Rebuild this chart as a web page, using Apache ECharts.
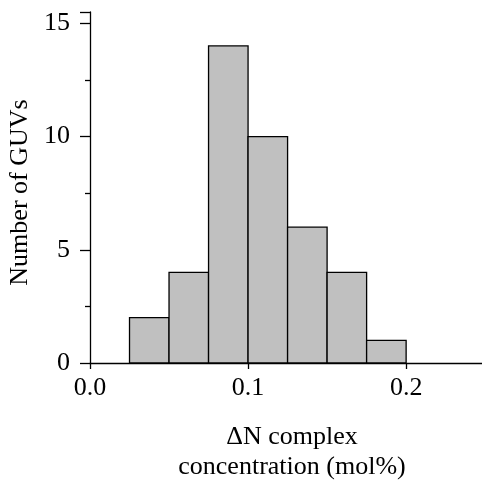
<!DOCTYPE html>
<html><head><meta charset="utf-8">
<script src="https://cdn.jsdelivr.net/npm/echarts@6/dist/echarts.min.js"></script>
<style>html,body{margin:0;padding:0;background:#fff}#c{width:482px;height:480px}</style>
</head><body><div id="c"></div>
<script>
const binStarts = [0.025, 0.05, 0.075, 0.1, 0.125, 0.15, 0.175];
const binWidth = 0.025;
const counts = [2, 4, 14, 10, 6, 4, 1];
const xTicks = [0.0, 0.1, 0.2];
const yTicks = [0, 5, 10, 15];

const FONT = 'Liberation Serif';
const FS = 26;
const data = binStarts.map((s, i) => [s, s + binWidth, counts[i]]);
const chart = echarts.init(document.getElementById('c'), null, {renderer: 'canvas'});
chart.setOption({
  animation: false,
  backgroundColor: '#fff',
  textStyle: {fontFamily: FONT},
  grid: {left: 90, right: 0, top: 12, bottom: 117, containLabel: false, outerBoundsMode: 'none'},
  xAxis: {
    type: 'value', min: 0, max: 0.248, interval: 0.1,
    splitLine: {show: false},
    axisLine: {lineStyle: {color: '#000', width: 1.3}},
    axisTick: {length: 6, lineStyle: {color: '#000', width: 1.3}},
    axisLabel: {color: '#000', fontSize: FS, fontFamily: FONT, margin: 12, showMaxLabel: false,
      formatter: v => xTicks.some(t => Math.abs(t - v) < 1e-9) ? v.toFixed(1) : ''},
    name: 'ΔN complex\nconcentration (mol%)',
    nameLocation: 'middle', nameGap: 59,
    nameTextStyle: {color: '#000', fontSize: FS, fontFamily: FONT, lineHeight: 30, padding: [0, 0, 0, 12]}
  },
  yAxis: {
    type: 'value', min: 0, max: 15.5, interval: 5,
    splitLine: {show: false},
    axisLine: {lineStyle: {color: '#000', width: 1.3}},
    axisTick: {length: 10, lineStyle: {color: '#000', width: 1.3}},
    minorTick: {show: true, splitNumber: 2, length: 5, lineStyle: {color: '#000', width: 1.3}},
    axisLabel: {color: '#000', fontSize: FS, fontFamily: FONT, margin: 20, showMaxLabel: true,
      formatter: v => yTicks.includes(v) ? String(v) : ''},
    name: 'Number of GUVs',
    nameLocation: 'middle', nameGap: 55,
    nameTextStyle: {color: '#000', fontSize: FS, fontFamily: FONT, padding: [0, 10, 0, 0]}
  },
  series: [{
    type: 'custom',
    data: data,
    encode: {x: [0, 1], y: 2},
    renderItem: function (params, api) {
      const p0 = api.coord([api.value(0), 0]);
      const p1 = api.coord([api.value(1), api.value(2)]);
      return {
        type: 'rect',
        shape: {x: p0[0], y: p1[1], width: p1[0] - p0[0], height: p0[1] - p1[1]},
        style: {fill: '#c0c0c0', stroke: '#000', lineWidth: 1.3}
      };
    }
  }]
});
</script></body></html>
